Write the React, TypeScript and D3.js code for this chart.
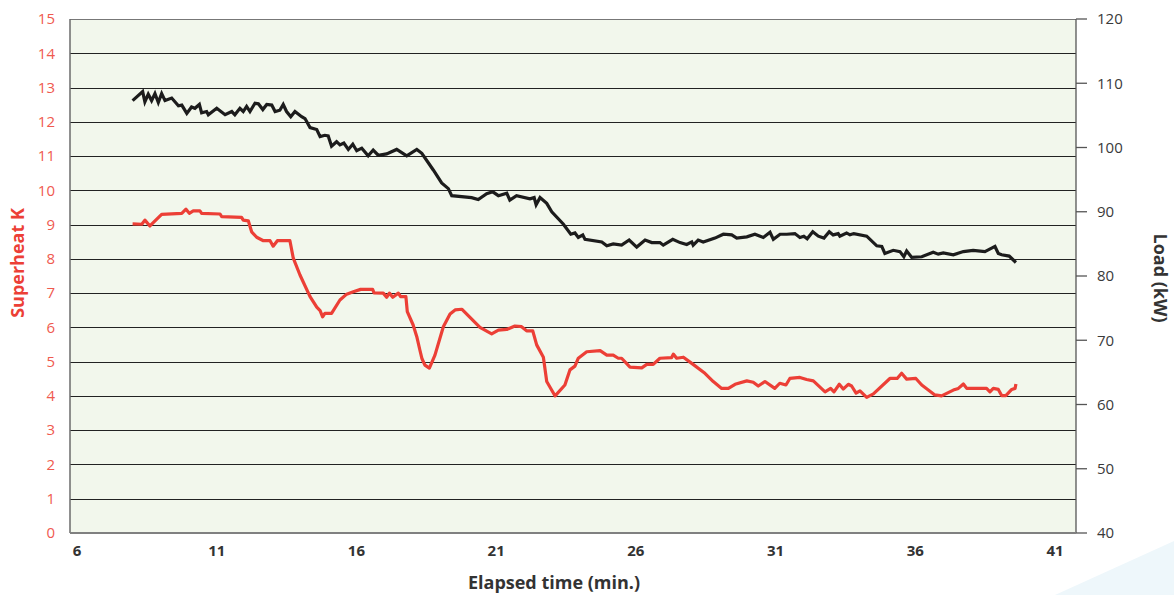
import * as React from "react";
import { scaleLinear, line, range } from "d3";

// elapsed time (min.) and superheat (K)
const shTime = [7.99, 8.32, 8.43, 8.61, 9.03, 9.75, 9.9, 10.02, 10.16, 10.4, 10.46, 11.12, 11.18, 11.89, 11.95, 12.13, 12.25, 12.43, 12.67, 12.91, 13.02, 13.17, 13.62, 13.74, 13.98, 14.34, 14.58, 14.7, 14.79, 14.87, 15.11, 15.41, 15.65, 15.89, 16.15, 16.58, 16.63, 16.96, 17.08, 17.18, 17.3, 17.5, 17.58, 17.77, 17.82, 18.03, 18.16, 18.27, 18.34, 18.45, 18.61, 18.81, 19.11, 19.35, 19.53, 19.77, 20.42, 20.84, 21.08, 21.38, 21.67, 21.91, 22.09, 22.31, 22.45, 22.69, 22.81, 23.11, 23.46, 23.64, 23.82, 23.94, 24.24, 24.72, 24.96, 25.19, 25.37, 25.49, 25.79, 26.21, 26.39, 26.62, 26.86, 27.28, 27.34, 27.46, 27.7, 28.0, 28.47, 28.77, 29.07, 29.31, 29.55, 29.97, 30.2, 30.38, 30.62, 30.97, 31.15, 31.37, 31.51, 31.87, 32.11, 32.35, 32.77, 32.97, 33.09, 33.28, 33.42, 33.6, 33.72, 33.88, 34.02, 34.26, 34.5, 35.09, 35.35, 35.51, 35.69, 36.02, 36.23, 36.7, 36.94, 37.36, 37.54, 37.72, 37.84, 38.55, 38.67, 38.79, 38.97, 39.09, 39.24, 39.45, 39.57, 39.6];
const superheat = [9.02, 9.01, 9.13, 8.96, 9.3, 9.33, 9.45, 9.33, 9.4, 9.4, 9.33, 9.31, 9.23, 9.21, 9.13, 9.11, 8.79, 8.63, 8.53, 8.53, 8.37, 8.53, 8.53, 8.02, 7.53, 6.9, 6.59, 6.49, 6.31, 6.41, 6.41, 6.8, 6.97, 7.04, 7.11, 7.11, 7.01, 7.0, 6.88, 7.0, 6.88, 7.0, 6.9, 6.9, 6.46, 6.07, 5.73, 5.34, 5.1, 4.9, 4.81, 5.19, 6.02, 6.39, 6.51, 6.53, 6.0, 5.81, 5.92, 5.94, 6.04, 6.02, 5.9, 5.9, 5.49, 5.13, 4.42, 4.0, 4.32, 4.76, 4.87, 5.1, 5.29, 5.32, 5.19, 5.19, 5.1, 5.1, 4.84, 4.82, 4.92, 4.92, 5.1, 5.12, 5.22, 5.1, 5.13, 4.95, 4.66, 4.42, 4.22, 4.22, 4.34, 4.44, 4.4, 4.29, 4.42, 4.22, 4.37, 4.32, 4.51, 4.54, 4.48, 4.44, 4.12, 4.22, 4.12, 4.34, 4.2, 4.34, 4.29, 4.08, 4.15, 3.96, 4.06, 4.51, 4.51, 4.66, 4.49, 4.51, 4.32, 4.03, 4.0, 4.17, 4.22, 4.35, 4.22, 4.22, 4.12, 4.22, 4.19, 4.01, 4.01, 4.19, 4.22, 4.35];

// elapsed time (min.) and load (kW)
const loadTime = [7.99, 8.35, 8.43, 8.55, 8.67, 8.79, 8.91, 9.03, 9.15, 9.39, 9.63, 9.75, 9.93, 10.1, 10.22, 10.38, 10.46, 10.64, 10.7, 11.0, 11.3, 11.54, 11.65, 11.83, 11.95, 12.07, 12.19, 12.37, 12.49, 12.65, 12.79, 12.97, 13.09, 13.26, 13.38, 13.5, 13.65, 13.8, 14.04, 14.16, 14.34, 14.58, 14.7, 14.87, 14.99, 15.11, 15.29, 15.41, 15.55, 15.71, 15.87, 16.01, 16.19, 16.42, 16.6, 16.78, 17.08, 17.44, 17.8, 18.16, 18.34, 18.75, 19.05, 19.29, 19.41, 20.12, 20.36, 20.66, 20.88, 21.08, 21.38, 21.49, 21.73, 22.21, 22.36, 22.43, 22.57, 22.81, 22.99, 23.4, 23.67, 23.82, 23.94, 24.1, 24.18, 24.78, 24.96, 25.19, 25.49, 25.76, 26.03, 26.33, 26.57, 26.86, 26.98, 27.32, 27.58, 27.82, 28.0, 28.05, 28.23, 28.41, 28.83, 29.13, 29.43, 29.61, 29.97, 30.26, 30.56, 30.8, 30.92, 31.16, 31.4, 31.69, 31.87, 32.01, 32.13, 32.33, 32.53, 32.73, 32.92, 33.06, 33.24, 33.3, 33.54, 33.66, 33.8, 34.26, 34.62, 34.8, 34.91, 35.21, 35.45, 35.59, 35.69, 35.87, 36.23, 36.64, 36.82, 37.0, 37.36, 37.72, 38.07, 38.49, 38.85, 38.97, 39.09, 39.36, 39.6];
const load = [107.3, 108.7, 107.1, 108.3, 107.3, 108.4, 107.0, 108.4, 107.3, 107.7, 106.5, 106.6, 105.3, 106.3, 106.1, 106.7, 105.4, 105.6, 105.1, 106.1, 105.1, 105.6, 105.1, 106.1, 105.6, 106.4, 105.6, 106.9, 106.8, 105.9, 106.7, 106.6, 105.6, 105.8, 106.7, 105.6, 104.8, 105.6, 104.8, 104.5, 103.1, 102.8, 101.7, 101.9, 101.8, 100.2, 100.9, 100.4, 100.7, 99.7, 100.5, 99.5, 99.9, 98.7, 99.6, 98.8, 99.0, 99.7, 98.7, 99.7, 99.1, 96.5, 94.5, 93.6, 92.5, 92.2, 91.9, 92.8, 93.1, 92.5, 92.9, 91.8, 92.5, 92.0, 92.2, 91.1, 92.2, 91.3, 90.0, 88.1, 86.5, 86.7, 86.0, 86.4, 85.7, 85.3, 84.7, 85.0, 84.8, 85.6, 84.5, 85.6, 85.2, 85.2, 84.8, 85.7, 85.2, 84.9, 85.3, 84.8, 85.6, 85.3, 85.9, 86.5, 86.4, 85.9, 86.1, 86.5, 86.0, 86.8, 85.7, 86.5, 86.5, 86.6, 86.0, 86.2, 85.8, 86.9, 86.2, 85.9, 86.9, 86.4, 86.6, 86.2, 86.7, 86.4, 86.6, 86.2, 84.7, 84.6, 83.5, 84.0, 83.8, 83.0, 83.9, 82.9, 83.0, 83.7, 83.4, 83.6, 83.3, 83.8, 84.0, 83.8, 84.6, 83.5, 83.3, 83.1, 82.1];

const xTicks = [6, 11, 16, 21, 26, 31, 36, 41];
const leftTicks = range(0, 16);
const rightTicks = [40, 50, 60, 70, 80, 90, 100, 110, 120];

const W = 1174;
const H = 595;
const left = 70;
const right = 1076;
const top = 19;
const bottom = 533;
const FONT = "'Open Sans', 'Noto Sans', sans-serif";

export default function App() {
  const x = scaleLinear().domain([5.75, 41.75]).range([left, right]);
  const yL = scaleLinear().domain([0, 15]).range([bottom, top]);
  const yR = scaleLinear().domain([40, 120]).range([bottom, top]);

  const shLine = line<number>()
    .x((d, i) => x(shTime[i]))
    .y((d) => yL(d));
  const loadLine = line<number>()
    .x((d, i) => x(loadTime[i]))
    .y((d) => yR(d));

  return (
    <svg
      width={W}
      height={H}
      style={{ position: "absolute", left: 0, top: 0, display: "block" }}
      fontFamily={FONT}
    >
      <rect width={W} height={H} fill="#fff" />
      <polygon points="1055,595 1174,541 1174,595" fill="#eef7fb" />
      <rect x={left} y={top} width={right - left} height={bottom - top} fill="#f2f7ec" />

      {/* gridlines */}
      {leftTicks.slice(1).map((t) => (
        <line
          key={t}
          x1={left}
          x2={right}
          y1={Math.round(yL(t)) + 0.5}
          y2={Math.round(yL(t)) + 0.5}
          stroke={t === 15 ? "#777" : "#222"}
          strokeWidth={1}
        />
      ))}

      {/* axes */}
      <line x1={left} x2={left} y1={top} y2={bottom} stroke="#6b6b6b" strokeWidth={1.5} />
      <line x1={right} x2={right} y1={top} y2={bottom} stroke="#555" strokeWidth={1.3} />
      <line x1={left} x2={right} y1={bottom} y2={bottom} stroke="#808080" strokeWidth={2} />
      {rightTicks.map((t) => (
        <g key={t}>
          <line x1={right} x2={right + 11} y1={yR(t)} y2={yR(t)} stroke="#555" strokeWidth={1.3} />
          <text x={right + 21} y={yR(t)} dy="0.35em" fontSize={15} fill="#3a3a3a">
            {t}
          </text>
        </g>
      ))}
      {leftTicks.map((t) => (
        <text key={t} x={55} y={yL(t)} dy="0.35em" textAnchor="end" fontSize={15} fill="#ef5a4f">
          {t}
        </text>
      ))}
      {xTicks.map((t) => (
        <text key={t} x={x(t)} y={556} textAnchor="middle" fontSize={15} fontWeight="bold" fill="#333">
          {t}
        </text>
      ))}

      {/* series */}
      <path d={loadLine(load) || ""} fill="none" stroke="#1c1c1c" strokeWidth={3.2} strokeLinejoin="miter" />
      <path d={shLine(superheat) || ""} fill="none" stroke="#ec3f36" strokeWidth={3.2} strokeLinejoin="round" />

      {/* titles */}
      <text
        transform={`translate(24,263) rotate(-90)`}
        textAnchor="middle"
        fontSize={18}
        fontWeight="bold"
        fill="#ec3f36"
      >
        Superheat K
      </text>
      <text
        transform={`translate(1154,278) rotate(90)`}
        textAnchor="middle"
        fontSize={18}
        fontWeight="bold"
        fill="#333"
      >
        Load (kW)
      </text>
      <text x={554} y={589} textAnchor="middle" fontSize={18} fontWeight="bold" fill="#333">
        Elapsed time (min.)
      </text>
    </svg>
  );
}
